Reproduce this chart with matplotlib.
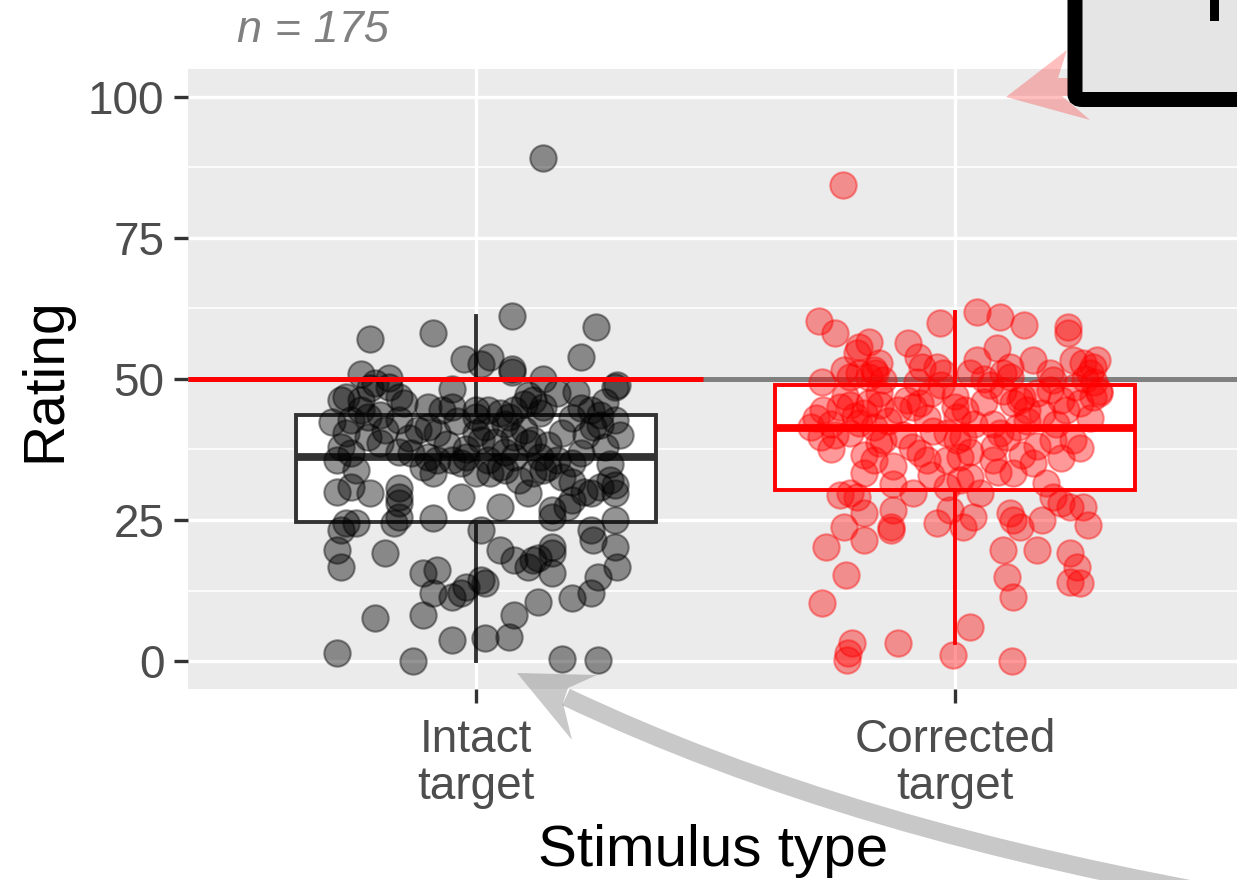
import matplotlib
matplotlib.use("Agg")
import matplotlib.pyplot as plt
from matplotlib.patches import Polygon, FancyBboxPatch, Rectangle, PathPatch
from matplotlib.path import Path
import numpy as np

plt.rcParams['font.family'] = ['Liberation Sans', 'DejaVu Sans']

# ---------------- data ----------------
categories = ["Intact\ntarget", "Corrected\ntarget"]
n_label = "n = 175"
y_ticks = [0, 25, 50, 75, 100]
reference_level = 50

intact_jitter = [0.14, -0.22, -0.09, 0.075, 0.25, 0.22, -0.025, 0.03, 0.01, 0.075, 0.075, 0.14, -0.24, -0.18, -0.21,
                 -0.22, -0.18, 0.295, 0.29, -0.05, 0.21, -0.27, -0.28, -0.24, -0.16, -0.15, 0.11, 0.12, 0.14, 0.135,
                 0.22, 0.24, 0.26, 0.29, -0.10, -0.07, -0.05, 0.0, 0.0, 0.025, 0.05, 0.08, 0.07, -0.30, -0.26,
                 -0.225, -0.20, -0.16, 0.30, 0.26, 0.245, -0.10, -0.08, 0.0, 0.01, 0.04, 0.08, 0.11, 0.12, 0.15,
                 -0.225, -0.20, -0.28, -0.26, -0.16, -0.135, -0.10, -0.08, -0.05, -0.03, -0.02, 0.025, 0.05, 0.08,
                 0.135, 0.15, 0.17, 0.20, 0.22, -0.29, -0.25, -0.11, -0.09, 0.0, 0.03, 0.06, 0.09, 0.12, 0.14, 0.18,
                 0.20, 0.225, 0.24, 0.26, 0.28, 0.29, 0.29, -0.29, -0.26, -0.22, -0.16, -0.16, -0.16, -0.03, 0.05,
                 0.11, 0.16, 0.16, 0.19, 0.20, -0.28, -0.27, -0.25, -0.17, -0.16, -0.09, 0.01, 0.24, 0.245, 0.29,
                 0.29, 0.295, 0.16, 0.16, -0.29, -0.28, -0.19, 0.05, 0.08, 0.11, 0.12, -0.11, -0.08, -0.09, -0.05,
                 -0.03, -0.02, 0.01, 0.13, 0.20, 0.24, 0.255, -0.21, -0.11, 0.08, -0.05, 0.02, 0.07, -0.29, -0.13,
                 0.18, 0.255, 0.16, 0.13, 0.02, -0.12, -0.04, 0.02, 0.06, 0.10, 0.18, 0.20, -0.19, -0.24, 0.27,
                 -0.06, 0.10, 0.17, 0.23, -0.14, -0.27, 0.27, -0.02, 0.06, 0.28]
intact_rating = [89.2, 57.1, 58.2, 61.2, 59.2, 53.9, 53.5, 53.9, 52.7, 51.8, 51.2, 50.0, 50.9, 50.2, 49.3,
                 48.4, 48.6, 48.9, 48.6, 48.2, 47.7, 46.8, 46.3, 46.3, 46.8, 45.7, 47.2, 46.3, 45.0, 44.0,
                 44.9, 44.5, 43.6, 42.7, 45.0, 44.5, 45.0, 44.5, 43.3, 44.5, 44.0, 44.5, 43.3, 42.4, 42.7,
                 43.3, 43.6, 42.7, 40.1, 41.8, 41.5, 41.5, 40.4, 40.4, 39.2, 38.8, 39.7, 38.7, 39.2, 38.3,
                 39.7, 38.7, 37.9, 36.9, 37.1, 36.9, 36.2, 35.6, 35.6, 35.1, 36.2, 35.6, 34.4, 36.2,
                 36.2, 34.4, 35.6, 35.1, 36.9, 35.6, 33.9, 34.4, 33.3, 33.3, 33.3, 33.9, 32.1, 33.3, 33.9, 32.6,
                 31.7, 30.0, 29.8, 30.9, 32.1, 31.2, 29.8, 30.0, 30.9, 29.8, 30.7, 29.1, 28.0, 29.1, 27.3,
                 29.8, 26.8, 25.5, 27.3, 28.5, 23.2, 24.5, 24.5, 24.5, 25.5, 25.4, 23.2, 23.2, 21.5, 25.0,
                 20.2, 16.7, 20.2, 19.1, 19.7, 16.7, 19.1, 19.7, 17.9, 16.7, 17.9, 15.6, 16.1, 12.1, 11.3,
                 12.1, 13.1, 14.4, 10.5, 11.2, 12.1, 14.9, 7.6, 8.2, 8.2, 3.7, 4.1, 4.3, 1.4, 0.0,
                 0.4, 0.2, 15.6, 18.3, 13.8, 41.0, 42.5, 41.5, 42.0, 41.0, 40.5, 43.0, 41.0, 44.5, 46.0,
                 38.5, 45.5, 47.5, 40.0, 39.5, 40.5, 38.0, 37.5, 37.0, 35.0]

corrected_jitter = [-0.235, -0.285, -0.25, -0.20, -0.18, -0.204, -0.098, -0.031, 0.046, 0.094, 0.144, 0.235, 0.235,
                    0.0875, 0.1625, -0.233, -0.16, -0.167, -0.077, -0.069, -0.0375, -0.025, 0.046, 0.031, 0.115,
                    0.115, 0.198, 0.204, 0.246, 0.267, 0.2875, 0.28, 0.296, -0.277, -0.18, 0.073, 0.10, 0.14, 0.30,
                    -0.22, -0.20, -0.17, -0.15, -0.275, -0.24, -0.22, -0.18, -0.156, -0.10, -0.0875, -0.073, -0.30,
                    -0.28, -0.22, -0.20, -0.17, -0.16, -0.15, -0.046, -0.017, 0.004, 0.004, 0.017, 0.079, 0.094,
                    0.108, 0.12, 0.135, 0.15, 0.17, 0.198, 0.22, 0.26, 0.2875, 0.30, 0.246, 0.26, 0.17, 0.204,
                    -0.073, -0.058, -0.017, 0.01, 0.079, 0.12, 0.1625, -0.19, -0.17, -0.13, -0.0875, -0.22, -0.204,
                    -0.017, 0.01, 0.031, 0.052, -0.19, -0.233, -0.27, -0.13, -0.135, -0.135, -0.0375, -0.01, 0.017,
                    0.0375, 0.115, 0.12, 0.135, 0.18, 0.204, 0.22, 0.24, 0.267, 0.277, 0.10, 0.108, 0.12, 0.17,
                    0.24, 0.254, 0.24, 0.26, -0.227, -0.277, 0.031, -0.215, -0.223, -0.225, -0.12, -0.004, 0.119,
                    -0.19, -0.24, -0.29, -0.26, -0.25, -0.21, -0.19, -0.14, -0.12, -0.11, -0.06, -0.05, -0.03, 0.00,
                    0.02, 0.04, 0.06, 0.06, 0.08, 0.13, 0.15, 0.18, 0.21, 0.23, 0.25, 0.27, 0.28, 0.29, -0.16,
                    -0.23, -0.08, 0.10, -0.19, -0.09, 0.03, 0.14, -0.26, 0.22, -0.13, 0.09, -0.05, 0.19, 0.0]
corrected_rating = [84.4, 60.3, 58.2, 55.7, 56.6, 54.6, 56.4, 59.9, 61.9, 61.0, 59.6, 59.2, 58.2,
                    55.5, 53.4, 51.6, 52.8, 51.1, 53.9, 52.1, 52.1, 51.1, 53.4, 51.1, 52.1,
                    50.4, 51.1, 49.8, 53.4, 52.8, 52.1, 51.1, 53.4, 49.5, 50.4, 48.9, 47.9, 46.8, 47.9,
                    50.4, 51.1, 51.6, 49.8, 44.5, 45.0, 45.4, 45.7, 45.4, 46.3, 45.0, 45.7, 41.5,
                    39.7, 40.4, 42.2, 41.5, 38.7, 39.2, 40.8, 40.4, 43.3, 39.2, 39.7, 42.0, 40.4,
                    39.7, 45.7, 46.3, 44.5, 47.5, 48.0, 46.3, 45.7, 46.8, 47.5, 39.2, 37.8, 38.1, 39.2,
                    36.9, 35.6, 35.6, 36.2, 35.6, 33.3, 35.1, 33.3, 35.6, 31.4, 29.8, 29.8, 29.1,
                    30.9, 32.1, 32.6, 29.8, 26.2, 23.8, 20.2, 26.8, 23.8, 23.2, 24.5, 26.8, 23.8,
                    25.5, 26.2, 25.0, 23.8, 25.0, 29.1, 28.0, 27.3, 27.3, 24.1, 19.7, 14.9, 11.3, 19.7,
                    19.1, 16.7, 14.0, 13.8, 15.2, 10.3, 6.0, 3.2, 1.4, 0.2, 3.2, 1.1, 0.0,
                    21.5, 29.4, 43.0, 42.0, 40.0, 43.5, 44.0, 42.5, 44.5, 40.0, 43.0, 47.5, 49.0, 47.0,
                    44.5, 42.0, 46.0, 50.0, 38.0, 41.5, 42.5, 44.0, 42.0, 44.5, 48.5, 50.0, 43.0, 49.5, 47.5,
                    47.0, 49.5, 51.0, 36.5, 38.0, 37.0, 36.5, 37.5, 36.0, 34.5, 33.5, 33.0, 31.5, 45.0]

# box-plot summaries (lower whisker, Q1, median, Q3, upper whisker)
intact_box = [0.0, 24.7, 36.1, 43.6, 61.2]
corrected_box = [3.2, 30.4, 41.4, 48.9, 61.9]

# ---------------- figure ----------------
W, H = 1237, 880
fig = plt.figure(figsize=(W / 100, H / 100), dpi=100)
fig.patch.set_facecolor('white')

def fp(x, y):
    """pixel (from top-left) -> figure fraction"""
    return (x / W, 1 - y / H)

ax = fig.add_axes([188 / W, (H - 689.2) / H, (1243 - 188) / W, (689.2 - 68.8) / H])
ax.set_facecolor('#EBEBEB')
for s in ax.spines.values():
    s.set_visible(False)

ax.set_xlim(0.4, 2.6)
ax.set_ylim(-5, 105)
ax.set_yticks(y_ticks)
ax.set_yticks([12.5, 37.5, 62.5, 87.5], minor=True)
ax.set_xticks([1, 2])
ax.set_xticklabels(categories)
ax.grid(which='major', axis='both', color='white', lw=2.4, zorder=0)
ax.grid(which='minor', axis='y', color='white', lw=1.2, zorder=0)
ax.set_axisbelow(True)
ax.tick_params(axis='both', which='major', colors='#333333', labelcolor='#4D4D4D',
               labelsize=33, length=10, width=2.4)
ax.tick_params(axis='y', which='major', pad=7)
ax.tick_params(axis='x', which='major', pad=11)
ax.tick_params(which='minor', length=0)
for lab in ax.get_xticklabels():
    lab.set_linespacing(1.08)

# reference line (grey across)
ax.axhline(reference_level, color='#808080', lw=3.6, zorder=1.5)

# box plots
colors = ['#333333', '#FF0000']
stats = []
for name, b in zip(categories, [intact_box, corrected_box]):
    stats.append(dict(whislo=b[0], q1=b[1], med=b[2], q3=b[3], whishi=b[4], label=name))
for i, (st, c) in enumerate(zip(stats, colors)):
    ax.bxp([st], positions=[i + 1], widths=0.75, showcaps=False, showfliers=False,
           patch_artist=True, manage_ticks=False,
           boxprops=dict(facecolor='white', edgecolor=c, lw=2.8),
           medianprops=dict(color=c, lw=5.6, solid_capstyle='butt'),
           whiskerprops=dict(color=c, lw=2.8), zorder=2)

# jittered points
ax.scatter(1 + np.array(intact_jitter), intact_rating, s=361, color='black', alpha=0.42,
           linewidths=1.5, edgecolors='black', zorder=3)
ax.scatter(2 + np.array(corrected_jitter), corrected_rating, s=361, color='#FF0000', alpha=0.40,
           linewidths=1.5, edgecolors='#FF0000', zorder=3)

# red reference segment over the left part
ax.hlines(reference_level, 0.4, 1.473, color='#FF0000', lw=3.6, zorder=4)

# axis titles
ax.set_ylabel('Rating', fontsize=41, color='black')
ax.yaxis.set_label_coords((60 - 188) / 1055, (689.2 - 380) / 620.4)
ax.yaxis.label.set_va('baseline')
ax.set_xlabel('Stimulus type', fontsize=42, color='black')
ax.xaxis.set_label_coords(0.4976, (689.2 - 866) / 620.4)
ax.xaxis.label.set_va('baseline')

# n label
fig.text(237 / W, 1 - 42 / H, n_label, fontsize=32.5, style='italic', color='#808080',
         ha='left', va='baseline')

# ---------------- overlay decorations from the surrounding figure ----------------
# pink arrow head pointing left (behind the black box)
pink = Polygon([fp(1006, 97), fp(1067, 50), fp(1058, 78), fp(1110, 78), fp(1110, 95),
                fp(1062, 96), fp(1090, 120)], closed=True, transform=fig.transFigure,
               facecolor=(1, 0, 0, 0.25), edgecolor='none', zorder=10)
fig.add_artist(pink)

# black rounded box at the top right
x0, y0 = fp(1075, 99.5)
x1, y1 = fp(1320, -60)
box = FancyBboxPatch((x0, y0), x1 - x0, y1 - y0, boxstyle='round,pad=0,rounding_size=0.006',
                     transform=fig.transFigure, facecolor='#E5E5E5', edgecolor='black',
                     lw=10.8, zorder=11)
fig.add_artist(box)
mx, my = fp(1210, 21)
mark = Rectangle((mx, my), 9 / W, 25 / H, transform=fig.transFigure, facecolor='black',
                 edgecolor='none', zorder=12)
fig.add_artist(mark)

# grey curved arrow from the lower right
start = fp(1262, 902)
ctrl = fp(850, 832)
end = fp(566, 697)
shaft = PathPatch(Path([start, ctrl, end], [Path.MOVETO, Path.CURVE3, Path.CURVE3]),
                  transform=fig.transFigure, facecolor='none', edgecolor='#C8C8C8',
                  lw=13, capstyle='butt', zorder=10)
fig.add_artist(shaft)
head = Polygon([fp(517, 673), fp(597, 675), fp(568, 688), fp(563, 703), fp(572, 740)],
               closed=True, transform=fig.transFigure, facecolor=(0.5, 0.5, 0.5, 0.42),
               edgecolor='none', zorder=10)
fig.add_artist(head)

fig.savefig('out.png', dpi=100)
